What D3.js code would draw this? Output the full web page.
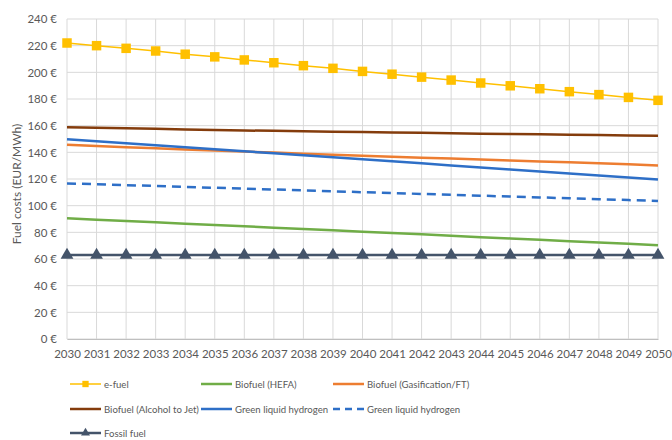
<!DOCTYPE html>
<html>
<head>
<meta charset="utf-8">
<script src="https://cdn.jsdelivr.net/npm/d3@7"></script>
<style>
  body { margin: 0; background: #fff; }
  text { font-family: Lato, "Open Sans", "Liberation Sans", sans-serif; }
</style>
</head>
<body>
<svg id="chart" width="672" height="440"></svg>
<script>
// Fuel cost projections, EUR/MWh, 2030–2050
const years = d3.range(2030, 2051);
const yTicks = [0, 20, 40, 60, 80, 100, 120, 140, 160, 180, 200, 220, 240];

const eFuel      = [222, 220, 218, 216, 213.6, 211.6, 209.3, 207.2, 205, 203, 200.7, 198.6, 196.4, 194.2, 192, 189.9, 187.7, 185.5, 183.3, 181.2, 179];
const hefa       = [90.5, 89.5, 88.5, 87.5, 86.5, 85.5, 84.5, 83.5, 82.5, 81.5, 80.5, 79.5, 78.5, 77.5, 76.4, 75.4, 74.4, 73.4, 72.4, 71.4, 70.3];
const gasFT      = [145.7, 144.8, 143.9, 143.0, 142.2, 141.4, 140.6, 139.8, 139.0, 138.2, 137.4, 136.7, 136.0, 135.3, 134.6, 133.9, 133.2, 132.5, 131.8, 131.0, 130.2];
const alcJet     = [158.8, 158.4, 158, 157.6, 157.2, 156.8, 156.4, 156.1, 155.8, 155.5, 155.2, 154.9, 154.6, 154.3, 154, 153.8, 153.5, 153.2, 153, 152.7, 152.4];
const gLH2       = [149.8, 148.3, 146.8, 145.3, 143.8, 142.3, 140.8, 139.3, 137.8, 136.3, 134.8, 133.3, 131.8, 130.2, 128.7, 127.2, 125.7, 124.2, 122.7, 121.2, 119.7];
const gLH2Dashed = [116.7, 116.1, 115.4, 114.8, 114.1, 113.4, 112.8, 112.1, 111.5, 110.8, 110.1, 109.5, 108.8, 108.2, 107.5, 106.8, 106.2, 105.5, 104.9, 104.2, 103.5];
const fossil     = [63, 63, 63, 63, 63, 63, 63, 63, 63, 63, 63, 63, 63, 63, 63, 63, 63, 63, 63, 63, 63];

const seriesNames = ["e-fuel", "Biofuel (HEFA)", "Biofuel (Gasification/FT)",
                     "Biofuel (Alcohol to Jet)", "Green liquid hydrogen", "Green liquid hydrogen",
                     "Fossil fuel"];

const series = [
  { name: seriesNames[0], values: eFuel,      color: "#FFC000", width: 1.5,  dash: null,  marker: "square" },
  { name: seriesNames[1], values: hefa,       color: "#70AD47", width: 2.5,  dash: null,  marker: null },
  { name: seriesNames[2], values: gasFT,      color: "#ED7D31", width: 2.5,  dash: null,  marker: null },
  { name: seriesNames[3], values: alcJet,     color: "#843C0C", width: 2.5,  dash: null,  marker: null },
  { name: seriesNames[4], values: gLH2,       color: "#2E6FC7", width: 2.5,  dash: null,  marker: null },
  { name: seriesNames[5], values: gLH2Dashed, color: "#2E6FC7", width: 2.5,  dash: "9,6", marker: null },
  { name: seriesNames[6], values: fossil,     color: "#44546A", width: 2.5,  dash: null,  marker: "triangle" }
];

const svg = d3.select("#chart");
const margin = { left: 67, right: 14, top: 19, bottom: 101 };
const W = 672, H = 440;

const x = d3.scaleLinear().domain([2030, 2050]).range([margin.left, W - margin.right]);
const y = d3.scaleLinear().domain([0, 240]).range([H - margin.bottom, margin.top]);

const grid = svg.append("g");
// horizontal gridlines
grid.selectAll("line.h").data(yTicks).join("line")
  .attr("x1", x(2030)).attr("x2", x(2050))
  .attr("y1", d => y(d)).attr("y2", d => y(d))
  .attr("stroke", "#d9d9d9").attr("stroke-width", 1);
// vertical gridlines
grid.selectAll("line.v").data(years).join("line")
  .attr("x1", d => x(d)).attr("x2", d => x(d))
  .attr("y1", y(0)).attr("y2", y(240))
  .attr("stroke", "#d9d9d9").attr("stroke-width", 1);

// y axis
const yAxis = svg.append("g").attr("transform", `translate(${x(2030)},0)`)
  .call(d3.axisLeft(y).tickValues(yTicks).tickSize(0).tickPadding(10).tickFormat(d => d + " €"));
yAxis.select(".domain").remove();
yAxis.selectAll("text").attr("fill", "#595959").style("font-size", "11.5px");

// x axis
const xAxis = svg.append("g").attr("transform", `translate(0,${y(0)})`)
  .call(d3.axisBottom(x).tickValues(years).tickSize(0).tickPadding(11).tickFormat(d3.format("d")));
xAxis.select(".domain").attr("stroke", "#bfbfbf");
xAxis.selectAll("text").attr("fill", "#595959").style("font-size", "11.5px");

// y axis title
svg.append("text")
  .attr("transform", `translate(21,${(y(0) + y(240)) / 2 + 5}) rotate(-90)`)
  .attr("text-anchor", "middle")
  .attr("fill", "#595959").style("font-size", "12px")
  .text("Fuel costs (EUR/MWh)");

const line = d3.line().x((d, i) => x(years[i])).y(d => y(d));
const sq = d3.symbol().type(d3.symbolSquare).size(90);
const tri = d3.symbol().type(d3.symbolTriangle).size(70);

// draw series in back-to-front order
const drawOrder = [1, 2, 3, 4, 5, 6, 0];
drawOrder.forEach(k => {
  const s = series[k];
  const g = svg.append("g");
  g.append("path").datum(s.values)
    .attr("d", line).attr("fill", "none")
    .attr("stroke", s.color).attr("stroke-width", s.width)
    .attr("stroke-dasharray", s.dash);
  if (s.marker) {
    g.selectAll("path.m").data(s.values).join("path")
      .attr("transform", (d, i) => `translate(${x(years[i])},${y(d)})`)
      .attr("d", s.marker === "square" ? sq : tri)
      .attr("fill", s.color);
  }
});

// legend: three columns, wrapping onto three rows
const legendPos = [
  [70, 384], [201, 384], [333, 384],
  [70, 409], [201, 409], [333, 409],
  [70, 433]
];
const leg = svg.append("g").attr("class", "legend");
series.forEach((s, i) => {
  const [lx, ly] = legendPos[i];
  const g = leg.append("g").attr("transform", `translate(${lx},${ly})`);
  g.append("line").attr("x1", 0).attr("x2", 31).attr("y1", 0).attr("y2", 0)
    .attr("stroke", s.color).attr("stroke-width", s.width)
    .attr("stroke-dasharray", s.dash ? "7,5" : null);
  if (s.marker) {
    g.append("path").attr("transform", "translate(15.5,0)")
      .attr("d", s.marker === "square" ? d3.symbol().type(d3.symbolSquare).size(40)() : d3.symbol().type(d3.symbolTriangle).size(35)())
      .attr("fill", s.color);
  }
  g.append("text").attr("x", 34).attr("y", 3.6)
    .attr("fill", "#595959").style("font-size", "9.6px")
    .text(s.name);
});
</script>
</body>
</html>
